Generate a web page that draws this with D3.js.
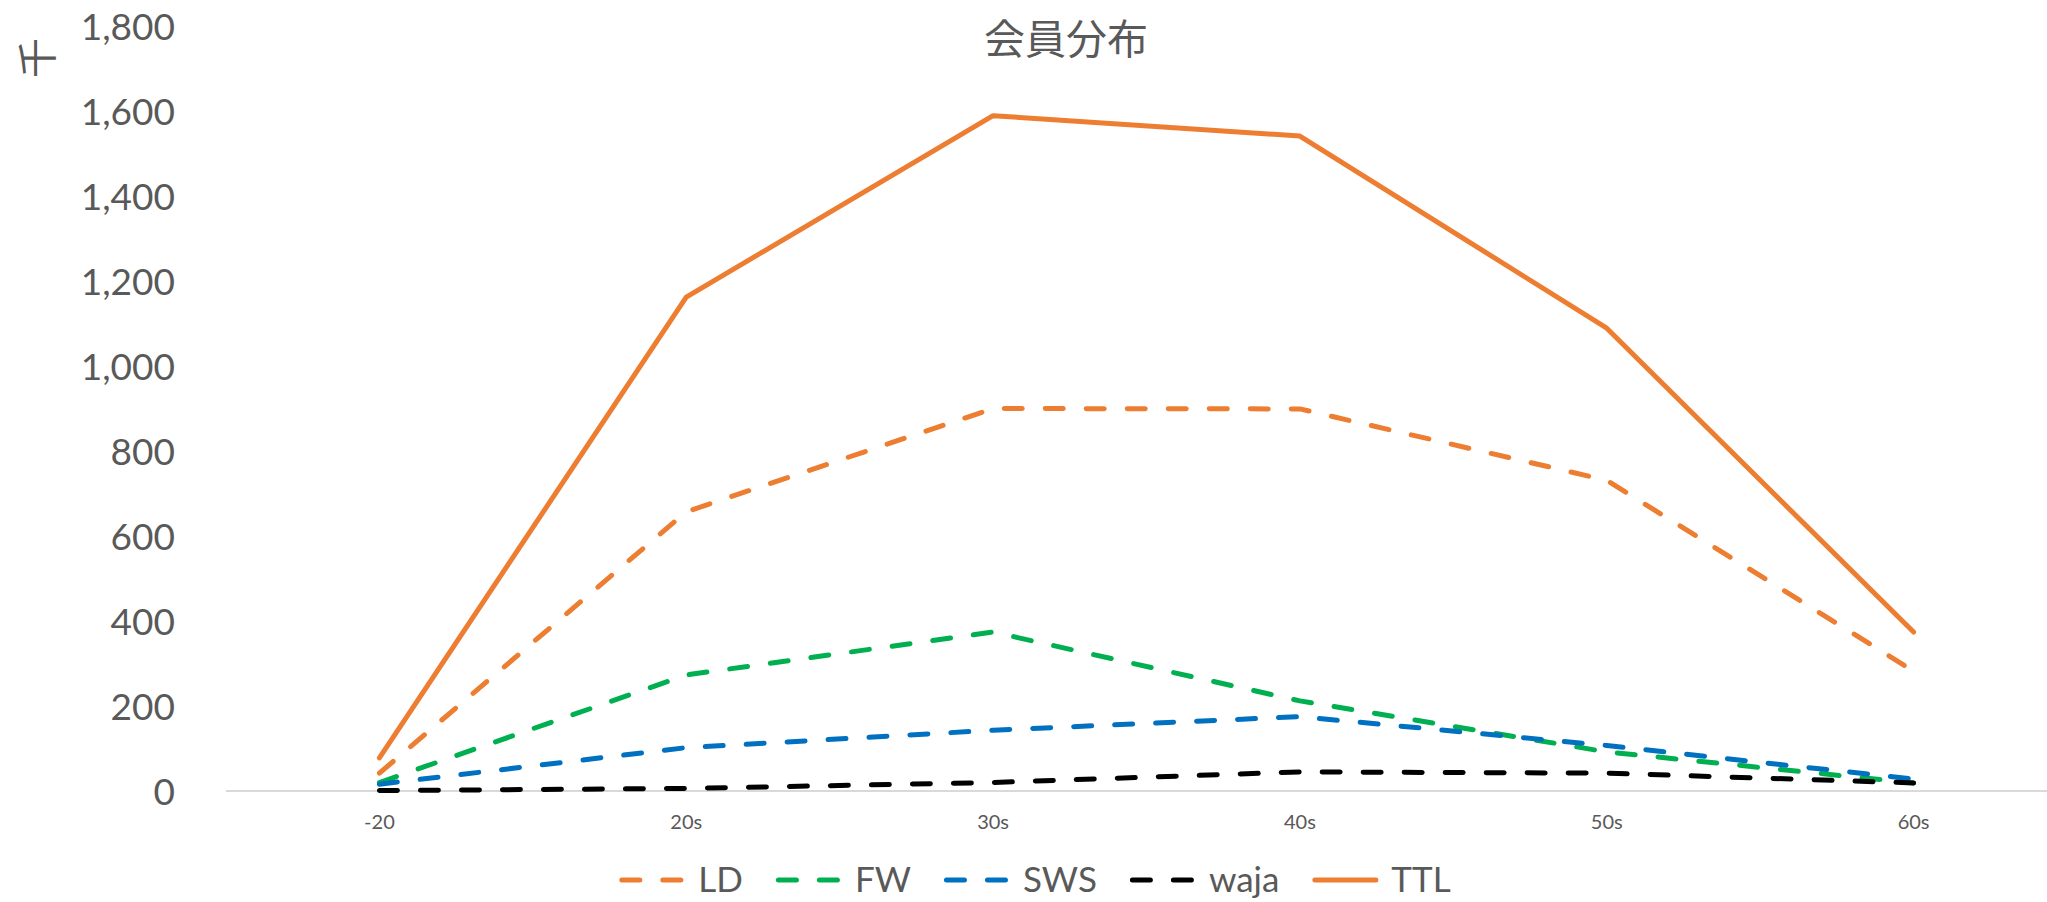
<!DOCTYPE html>
<html>
<head>
<meta charset="utf-8">
<script src="https://cdn.jsdelivr.net/npm/d3@7"></script>
<style>
  html, body { margin: 0; padding: 0; background: #fff; }
  svg { display: block; }
</style>
</head>
<body>
<svg id="chart" width="2047" height="902"></svg>
<script>
// Age bands and member counts (thousands)
const categories = ["-20", "20s", "30s", "40s", "50s", "60s"];
const seriesNames = ["LD", "FW", "SWS", "waja", "TTL"];
const LD   = [42, 657, 900, 899, 731, 282];
const FW   = [20, 273, 374, 212, 92, 19];
const SWS  = [16, 102, 143, 175, 107, 28];
const waja = [1, 6, 20, 45, 42, 19];
const TTL  = [78, 1162, 1589, 1541, 1089, 374];
const yTicks = [0, 200, 400, 600, 800, 1000, 1200, 1400, 1600, 1800];
const titleText = "会員分布";
const yUnit = "千";

const seriesValues = [LD, FW, SWS, waja, TTL];
const seriesColors = ["#ED7D31", "#00B050", "#0070C0", "#000000", "#ED7D31"];
const seriesDashed = [true, true, true, true, false];

const svg = d3.select("#chart");
const textColor = "#595959";
const latin = "Lato, 'Open Sans', sans-serif";
const cjk = "'Noto Sans CJK JP', 'Noto Sans CJK SC', sans-serif";

const plot = { left: 226, right: 2067, top: 26, bottom: 791 };

const x = d3.scaleBand().domain(categories).range([plot.left, plot.right]).padding(0);
const xc = c => x(c) + x.bandwidth() / 2;
const y = d3.scaleLinear().domain([0, 1800]).range([plot.bottom, plot.top]);

// Title
svg.append("text")
  .attr("x", 1066).attr("y", 36)
  .attr("text-anchor", "middle").attr("dominant-baseline", "central")
  .attr("font-family", cjk).attr("font-size", 41).attr("fill", textColor)
  .text(titleText);

// Unit label for the value axis
svg.append("text")
  .attr("transform", "translate(35,58) rotate(-90)")
  .attr("text-anchor", "middle").attr("dominant-baseline", "central")
  .attr("font-family", cjk).attr("font-size", 40).attr("fill", textColor)
  .text(yUnit);

// Value axis labels
const yAxis = d3.axisLeft(y).tickValues(yTicks).tickSize(0).tickPadding(0)
  .tickFormat(d3.format(","));
const yg = svg.append("g").attr("transform", "translate(175,0)").call(yAxis);
yg.select(".domain").remove();
yg.selectAll("text")
  .attr("font-family", latin).attr("font-size", 37).attr("fill", textColor)
  .attr("dy", "0.36em");

// Category axis: baseline + labels
svg.append("line")
  .attr("x1", plot.left).attr("x2", 2047)
  .attr("y1", y(0)).attr("y2", y(0))
  .attr("stroke", "#D9D9D9").attr("stroke-width", 2);

const xAxis = d3.axisBottom(x).tickSize(0).tickPadding(0);
const xg = svg.append("g").attr("transform", `translate(0,${y(0)})`).call(xAxis);
xg.select(".domain").remove();
xg.selectAll("text")
  .attr("font-family", latin).attr("font-size", 20).attr("fill", textColor)
  .attr("dy", null).attr("y", 38);

// Series lines
const line = d3.line().x((d, i) => xc(categories[i])).y(d => y(d));
seriesNames.forEach((name, k) => {
  svg.append("path")
    .datum(seriesValues[k])
    .attr("d", line)
    .attr("fill", "none")
    .attr("stroke", seriesColors[k])
    .attr("stroke-width", 5)
    .attr("stroke-linejoin", "round")
    .attr("stroke-linecap", "round")
    .attr("stroke-dasharray", seriesDashed[k] ? "18,23" : null);
});

// Legend
const legendY = 880;
const symW = 66, symGap = 13, itemGap = 33;
const legend = svg.append("g");
const items = legend.selectAll("g").data(seriesNames).join("g");
items.append("line")
  .attr("x1", 2.5).attr("x2", symW - 2.5)
  .attr("y1", 0).attr("y2", 0)
  .attr("stroke", (d, k) => seriesColors[k])
  .attr("stroke-width", 5)
  .attr("stroke-linecap", "round")
  .attr("stroke-dasharray", (d, k) => seriesDashed[k] ? "18,23" : null);
items.append("text")
  .attr("x", symW + symGap).attr("y", 12)
  .attr("font-family", latin).attr("font-size", 35).attr("fill", textColor)
  .text(d => d);
let cursor = 0;
items.each(function () {
  const g = d3.select(this);
  const w = symW + symGap + g.select("text").node().getComputedTextLength();
  g.attr("data-x", cursor);
  cursor += w + itemGap;
});
const total = cursor - itemGap;
const startX = 1035 - total / 2;
items.attr("transform", function () {
  return `translate(${startX + (+this.getAttribute("data-x"))},${legendY})`;
});
</script>
</body>
</html>
